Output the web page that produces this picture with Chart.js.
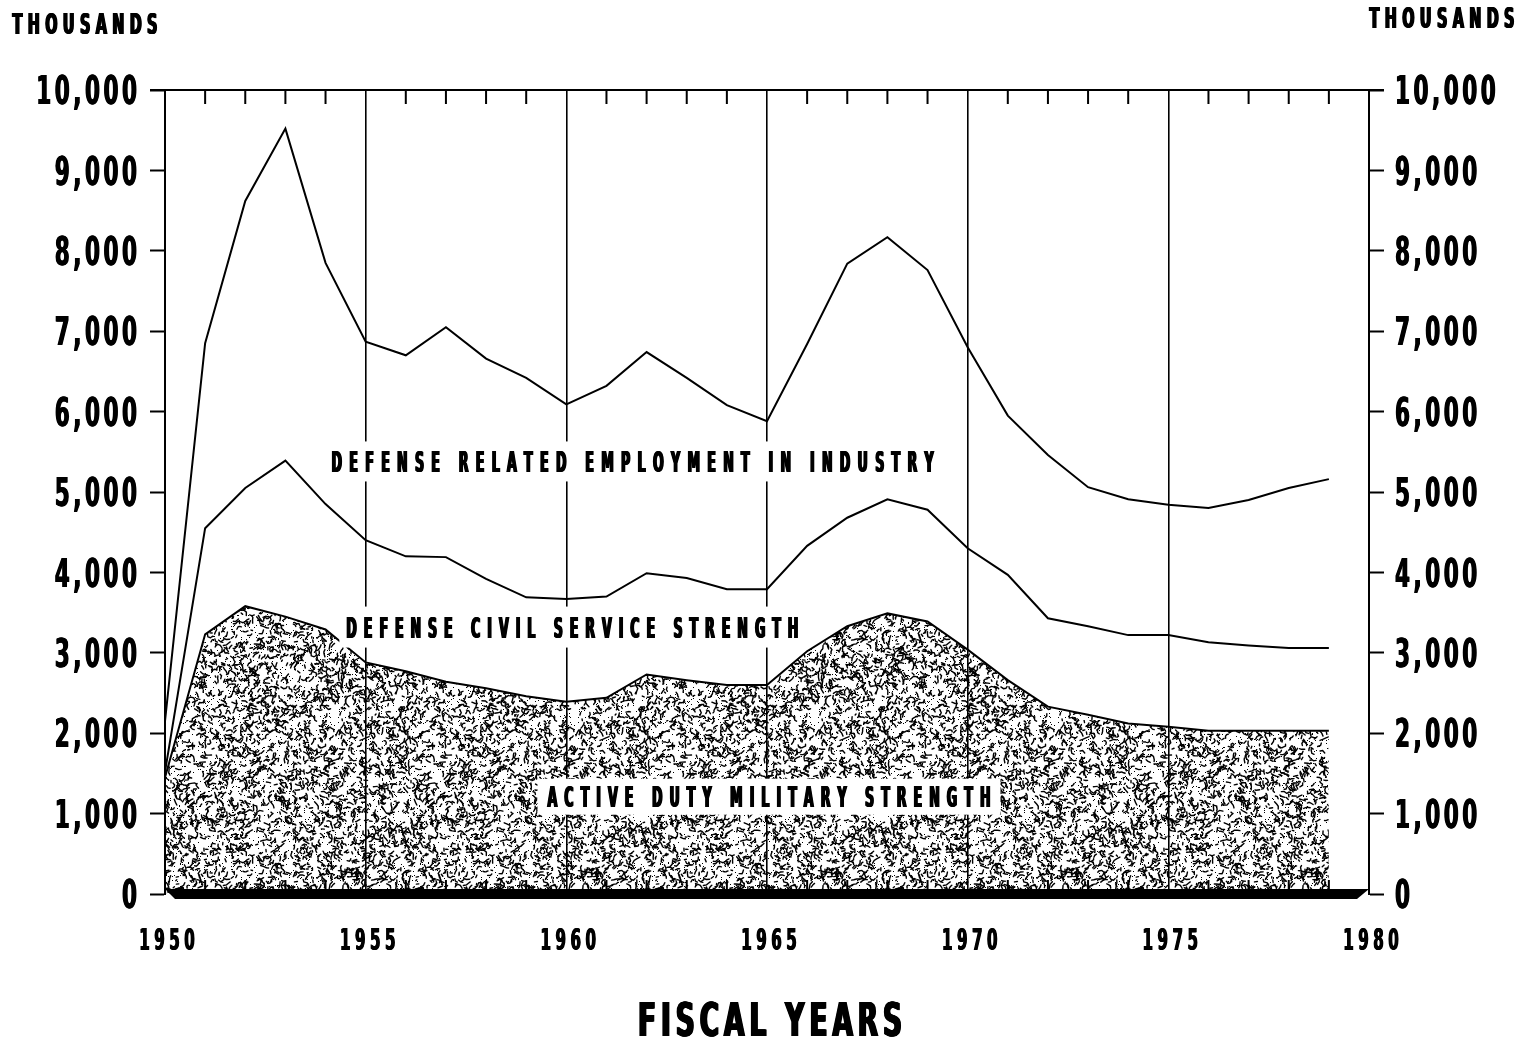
<!DOCTYPE html>
<html>
<head>
<meta charset="utf-8">
<title>Defense Employment</title>
<script src="https://cdn.jsdelivr.net/npm/chart.js@4.4.1/dist/chart.umd.min.js"></script>
<style>
  html, body { margin: 0; padding: 0; background: #fff; }
</style>
</head>
<body>
<canvas id="chart" width="1532" height="1045"></canvas>
<script>
const FONT = "'DejaVu Sans Condensed', 'DejaVu Sans', sans-serif";

// data, thousands (tops of each layer as drawn)
const years = [1950, 1951, 1952, 1953, 1954, 1955, 1956, 1957, 1958, 1959,
  1960, 1961, 1962, 1963, 1964, 1965, 1966, 1967, 1968, 1969,
  1970, 1971, 1972, 1973, 1974, 1975, 1976, 1977, 1978, 1979];
const militaryStrength = [1450, 3230, 3580, 3450, 3290, 2880, 2770, 2640, 2560, 2460,
  2390, 2440, 2730, 2660, 2600, 2600, 3020, 3330, 3490, 3390,
  3040, 2660, 2330, 2230, 2120, 2080, 2030, 2030, 2030, 2030];
const civilServiceTop = [1520, 4550, 5050, 5390, 4850, 4400, 4200, 4190, 3920, 3690,
  3670, 3700, 3990, 3930, 3790, 3790, 4330, 4680, 4910, 4780,
  4300, 3970, 3430, 3330, 3220, 3220, 3130, 3090, 3060, 3060];
const industryTop = [2150, 6850, 8620, 9520, 7850, 6870, 6700, 7050, 6660, 6420,
  6090, 6320, 6740, 6420, 6080, 5880, 6840, 7840, 8170, 7760,
  6800, 5950, 5460, 5060, 4910, 4840, 4800, 4900, 5050, 5160];

const seriesLabels = ["DEFENSE RELATED EMPLOYMENT IN INDUSTRY", "DEFENSE CIVIL SERVICE STRENGTH", "ACTIVE DUTY MILITARY STRENGTH"];
const axisUnit = "THOUSANDS";
const xTitle = "FISCAL YEARS";

function pts(vals) {
  return vals.map((v, i) => ({ x: years[i], y: v }));
}

// speckled texture for the military area
function makeStipple() {
  const size = 240;
  const c = document.createElement("canvas");
  c.width = c.height = size;
  const g = c.getContext("2d");
  let s = 987654321;
  const rnd = () => {
    s |= 0; s = (s + 0x6D2B79F5) | 0;
    let t = Math.imul(s ^ (s >>> 15), 1 | s);
    t = (t + Math.imul(t ^ (t >>> 7), 61 | t)) ^ t;
    return ((t ^ (t >>> 14)) >>> 0) / 4294967296;
  };
  g.strokeStyle = "#000";
  g.fillStyle = "#000";
  g.lineWidth = 1.4;
  g.lineCap = "round";
  for (let i = 0; i < 2500; i++) {
    const x0 = rnd() * size, y0 = rnd() * size;
    const steps = 1 + Math.floor(rnd() * 3);
    const path = [[x0, y0]];
    let a = rnd() * Math.PI * 2, x = x0, y = y0;
    for (let k = 0; k < steps; k++) {
      a += (rnd() - 0.5) * 2.4;
      const len = 1.3 + rnd() * 2.2;
      x += Math.cos(a) * len; y += Math.sin(a) * len;
      path.push([x, y]);
    }
    for (const dx of [0, -size]) {
      for (const dy of [0, -size]) {
        g.beginPath();
        g.moveTo(path[0][0] + dx, path[0][1] + dy);
        for (let k = 1; k < path.length; k++) g.lineTo(path[k][0] + dx, path[k][1] + dy);
        g.stroke();
      }
    }
  }
  for (let i = 0; i < 1900; i++) {
    g.fillRect(Math.floor(rnd() * size), Math.floor(rnd() * size), 1, 1);
  }
  return g.createPattern(c, "repeat");
}

// narrow, letter-spaced heavy text (the original lettering is a tall condensed face)
// o: size, refChar, refW (target width of refChar), gap or width, align, bold (extra stem px)
function drawCondensed(ctx, text, x, y, o) {
  ctx.save();
  ctx.font = "bold " + o.size + "px " + FONT;
  ctx.letterSpacing = "0px";
  ctx.fillStyle = "#000";
  ctx.textAlign = "left";
  ctx.textBaseline = "alphabetic";
  const sx = o.refW / ctx.measureText(o.refChar).width;
  const chars = [...text];
  const widths = chars.map((ch) => ctx.measureText(ch).width * sx);
  const ink = widths.reduce((a, b) => a + b, 0);
  const gap = o.width != null ? (o.width - ink) / (chars.length - 1) : o.gap;
  const total = ink + gap * (chars.length - 1);
  let cx = o.align === "center" ? x - total / 2 : o.align === "right" ? x - total : x;
  const base = y + o.size * 0.729 / 2; // y is the cap-height centre
  const bold = o.bold || 0;
  chars.forEach((ch, i) => {
    for (let b = 0; b <= bold; b += 0.5) {
      ctx.save();
      ctx.translate(cx + b - bold / 2, base);
      ctx.scale(sx, 1);
      ctx.fillText(ch, 0, 0);
      ctx.restore();
    }
    cx += widths[i] + gap;
  });
  ctx.restore();
}

const framePlugin = {
  id: "frame",
  afterDatasetsDraw(chart) {
    const { ctx, chartArea } = chart;
    const xs = chart.scales.x, ys = chart.scales.y;
    ctx.save();
    ctx.strokeStyle = "#000";

    // top border and inward year ticks
    ctx.lineWidth = 2;
    ctx.beginPath();
    ctx.moveTo(chartArea.left - 15, chartArea.top);
    ctx.lineTo(chartArea.right + 15, chartArea.top);
    ctx.stroke();
    for (const yr of years) {
      if (yr % 5 === 0) continue;
      const px = xs.getPixelForValue(yr);
      ctx.beginPath();
      ctx.moveTo(px, chartArea.top);
      ctx.lineTo(px, chartArea.top + 14);
      ctx.moveTo(px, chartArea.bottom);
      ctx.lineTo(px, chartArea.bottom - 14);
      ctx.stroke();
    }

    // series labels on white boxes
    const labelPos = [
      { text: seriesLabels[0], x: 1961.65, y: 5380, w: 602, box: [606, 40] },
      { text: seriesLabels[1], x: 1960.15, y: 3320, w: 452, box: [466, 41] },
      { text: seriesLabels[2], x: 1965.05, y: 1210, w: 443, box: [463, 36] }
    ];
    for (const l of labelPos) {
      const cx = xs.getPixelForValue(l.x), cy = ys.getPixelForValue(l.y);
      ctx.fillStyle = "#fff";
      ctx.fillRect(cx - l.box[0] / 2, cy - l.box[1] / 2, l.box[0], l.box[1]);
      drawCondensed(ctx, l.text, cx, cy, { size: 29, refChar: "D", refW: 10.5, width: l.w, align: "center", bold: 1.5 });
    }

    // heavy base bar
    const y0 = chartArea.bottom;
    ctx.fillStyle = "#000";
    ctx.beginPath();
    ctx.moveTo(chartArea.left, y0 - 5);
    ctx.lineTo(chartArea.right, y0 - 5);
    ctx.lineTo(chartArea.right - 12, y0 + 5);
    ctx.lineTo(chartArea.left + 10, y0 + 5);
    ctx.closePath();
    ctx.fill();
    ctx.restore();
  },
  afterDraw(chart) {
    const { ctx, chartArea } = chart;
    const xs = chart.scales.x, ys = chart.scales.y, ys2 = chart.scales.y2;
    const fmt = (v) => v.toLocaleString("en-US");

    // value labels on both sides
    ys.ticks.forEach((t) => {
      drawCondensed(ctx, fmt(t.value), chartArea.left - 28, ys.getPixelForValue(t.value),
        { size: 39, refChar: "0", refW: 15, gap: 3.5, align: "right", bold: 1 });
    });
    ys2.ticks.forEach((t) => {
      drawCondensed(ctx, fmt(t.value), chartArea.right + 26, ys2.getPixelForValue(t.value),
        { size: 39, refChar: "0", refW: 15, gap: 3.5, align: "left", bold: 1 });
    });
    // year labels
    xs.ticks.forEach((t) => {
      drawCondensed(ctx, String(t.value), xs.getPixelForValue(t.value) + 2, chartArea.bottom + 45,
        { size: 31, refChar: "0", refW: 10.5, gap: 4.5, align: "center", bold: 1 });
    });

    drawCondensed(ctx, xTitle, (chartArea.left + chartArea.right) / 2 + 3, 1019,
      { size: 46, refChar: "E", refW: 18, width: 264, align: "center", bold: 2 });
    drawCondensed(ctx, axisUnit, 85, 24, { size: 28, refChar: "D", refW: 12, width: 145, align: "center", bold: 1.5 });
    drawCondensed(ctx, axisUnit, 1442, 18, { size: 28, refChar: "D", refW: 12, width: 145, align: "center", bold: 1.5 });
  }
};

const tickGrid = { drawOnChartArea: false, color: "#000", tickLength: 15, tickWidth: 2 };

new Chart(document.getElementById("chart"), {
  type: "line",
  data: {
    datasets: [
      {
        label: seriesLabels[2],
        data: pts(militaryStrength),
        borderColor: "#000",
        borderWidth: 2,
        backgroundColor: makeStipple(),
        fill: "origin",
        pointRadius: 0,
        tension: 0
      },
      {
        label: seriesLabels[1],
        data: pts(civilServiceTop),
        borderColor: "#000",
        borderWidth: 2,
        fill: false,
        pointRadius: 0,
        tension: 0
      },
      {
        label: seriesLabels[0],
        data: pts(industryTop),
        borderColor: "#000",
        borderWidth: 2,
        fill: false,
        pointRadius: 0,
        tension: 0
      }
    ]
  },
  options: {
    responsive: false,
    animation: false,
    layout: { padding: { top: 90, left: 0, right: 0, bottom: 0 } },
    plugins: {
      legend: { display: false },
      tooltip: { enabled: false }
    },
    scales: {
      x: {
        type: "linear",
        min: 1950,
        max: 1980,
        afterFit: (s) => { s.height = 151; },
        grid: { color: "#000", lineWidth: 1.6, drawTicks: false },
        border: { display: false },
        ticks: { stepSize: 5, display: false }
      },
      y: {
        position: "left",
        min: 0,
        max: 10000,
        afterFit: (s) => { s.width = 165; },
        grid: tickGrid,
        border: { color: "#000", width: 2 },
        ticks: { stepSize: 1000, display: false }
      },
      y2: {
        position: "right",
        min: 0,
        max: 10000,
        afterFit: (s) => { s.width = 163; },
        grid: tickGrid,
        border: { color: "#000", width: 2 },
        ticks: { stepSize: 1000, display: false }
      }
    }
  },
  plugins: [framePlugin]
});
</script>
</body>
</html>
